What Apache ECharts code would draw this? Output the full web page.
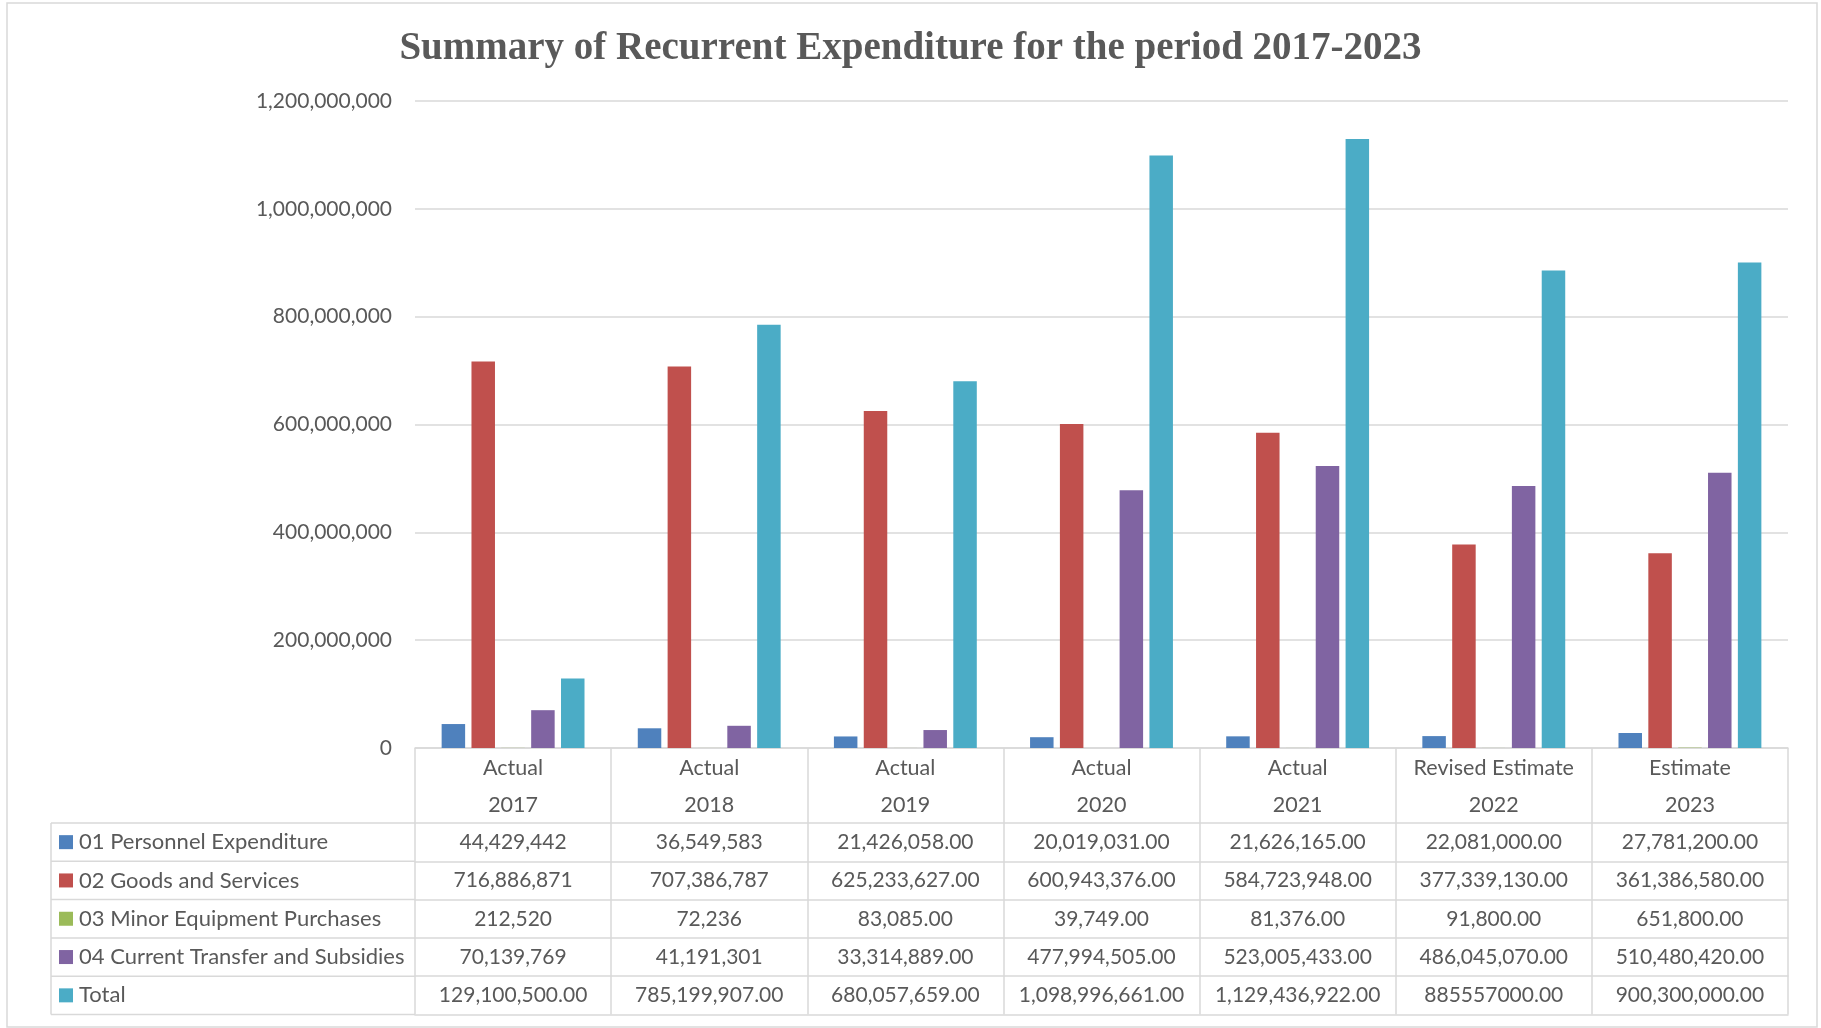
<!DOCTYPE html>
<html><head><meta charset="utf-8">
<script src="https://cdn.jsdelivr.net/npm/echarts/dist/echarts.min.js"></script>
<style>html,body{margin:0;padding:0;background:#fff}#c{width:1821px;height:1028px}</style>
</head><body><div id="c"></div>
<script>
// ---- data ----
const phases = ['Actual', 'Actual', 'Actual', 'Actual', 'Actual', 'Revised Estimate', 'Estimate'];
const years = ['2017', '2018', '2019', '2020', '2021', '2022', '2023'];
const seriesNames = ['01 Personnel Expenditure', '02 Goods and Services', '03 Minor Equipment Purchases', '04 Current Transfer and Subsidies', 'Total'];

const personnel = [44429442, 36549583, 21426058, 20019031, 21626165, 22081000, 27781200];
const goods = [716886871, 707386787, 625233627, 600943376, 584723948, 377339130, 361386580];
const minor = [212520, 72236, 83085, 39749, 81376, 91800, 651800];
const transfer = [70139769, 41191301, 33314889, 477994505, 523005433, 486045070, 510480420];
const total = [129100500, 785199907, 680057659, 1098996661, 1129436922, 885557000, 900300000];

// table cell labels as printed
const personnelLabels = ['44,429,442', '36,549,583', '21,426,058.00', '20,019,031.00', '21,626,165.00', '22,081,000.00', '27,781,200.00'];
const goodsLabels = ['716,886,871', '707,386,787', '625,233,627.00', '600,943,376.00', '584,723,948.00', '377,339,130.00', '361,386,580.00'];
const minorLabels = ['212,520', '72,236', '83,085.00', '39,749.00', '81,376.00', '91,800.00', '651,800.00'];
const transferLabels = ['70,139,769', '41,191,301', '33,314,889.00', '477,994,505.00', '523,005,433.00', '486,045,070.00', '510,480,420.00'];
const totalLabels = ['129,100,500.00', '785,199,907.00', '680,057,659.00', '1,098,996,661.00', '1,129,436,922.00', '885557000.00', '900,300,000.00'];

const yMin = 0, yMax = 1200000000, yInterval = 200000000;

// ---- layout / style ----
const seriesValues = [personnel, goods, minor, transfer, total];
const rowLabels = [personnelLabels, goodsLabels, minorLabels, transferLabels, totalLabels];
const colors = ['#4F81BD', '#C0504D', '#9BBB59', '#8064A2', '#4BACC6'];
const W = 1821, H = 1028;
const G = { left: 415, right: 1788, top: 101, zero: 748 };
const HEADER = 75, ROW = 38.3, TABLE_LEFT = 51;
const LINE = '#d9d9d9', LW = 1.5, TXT = '#595959';
const FONT = 'Lato';
const FS = 21;
const LEG_FS = 22;
const LEG_ITEM_H = 22;

const xAxes = [{
  type: 'category', gridIndex: 0, position: 'bottom', offset: 0,
  data: phases.map((p, i) => p + '\n' + years[i]),
  axisLine: { show: true, lineStyle: { color: LINE, width: LW } },
  axisTick: { show: true, interval: 0, length: HEADER, lineStyle: { color: LINE, width: LW } },
  axisLabel: { interval: 0, margin: 2, lineHeight: 37, fontSize: 21.5, color: TXT, fontFamily: FONT }
}];
rowLabels.forEach((labels, i) => {
  xAxes.push({
    type: 'category', gridIndex: 0, position: 'bottom', offset: HEADER + ROW * i,
    data: labels,
    axisLine: { show: true, lineStyle: { color: LINE, width: LW } },
    axisTick: { show: true, interval: 0, length: ROW, lineStyle: { color: LINE, width: LW } },
    axisLabel: { interval: 0, margin: 0, lineHeight: ROW, fontSize: FS, color: TXT, fontFamily: FONT }
  });
});
xAxes.push({
  type: 'category', gridIndex: 0, position: 'bottom', offset: HEADER + ROW * rowLabels.length,
  data: years,
  axisLine: { show: true, lineStyle: { color: LINE, width: LW } },
  axisTick: { show: false }, axisLabel: { show: false }
});

const tableTop = G.zero + HEADER;
const graphics = [
  { type: 'rect', shape: { x: 7, y: 3, width: 1810, height: 1024 }, style: { fill: null, stroke: LINE, lineWidth: 1.5 }, silent: true },
  { type: 'line', shape: { x1: TABLE_LEFT, y1: tableTop, x2: TABLE_LEFT, y2: tableTop + ROW * 5 }, style: { stroke: LINE, lineWidth: LW }, silent: true }
];
for (let k = 0; k <= 5; k++) {
  graphics.push({ type: 'line', shape: { x1: TABLE_LEFT, y1: tableTop + ROW * k, x2: G.left, y2: tableTop + ROW * k }, style: { stroke: LINE, lineWidth: LW }, silent: true });
}

const chart = echarts.init(document.getElementById('c'), null, { renderer: 'canvas' });
chart.setOption({
  backgroundColor: '#ffffff',
  animation: false,
  color: colors,
  title: {
    text: 'Summary of Recurrent Expenditure for the period 2017-2023',
    left: 'center', top: 29, padding: 0,
    textStyle: { fontFamily: 'Liberation Serif', fontWeight: 'bold', fontSize: 39, color: TXT }
  },
  legend: {
    orient: 'vertical', left: 59, top: tableTop + ROW / 2 - LEG_ITEM_H / 2, padding: 0,
    height: 300, width: 350,
    itemWidth: 14, itemHeight: 14, itemGap: ROW - LEG_ITEM_H, icon: 'rect', selectedMode: false,
    data: seriesNames,
    textStyle: { fontFamily: FONT, fontSize: LEG_FS, color: TXT, padding: [0, 0, 0, 1] }
  },
  grid: { left: G.left, right: W - G.right, top: G.top, bottom: H - G.zero, containLabel: false, outerBoundsMode: 'none' },
  xAxis: xAxes,
  yAxis: {
    type: 'value', min: yMin, max: yMax, interval: yInterval,
    axisLine: { show: false }, axisTick: { show: false },
    splitLine: { lineStyle: { color: LINE, width: LW } },
    axisLabel: { margin: 23, fontSize: FS, color: TXT, fontFamily: FONT, formatter: v => v.toLocaleString('en-US') }
  },
  graphic: graphics,
  series: seriesNames.map((name, i) => ({
    name, type: 'bar', xAxisIndex: 0, yAxisIndex: 0,
    data: seriesValues[i], barWidth: 23.5, barGap: '27%',
    itemStyle: { color: colors[i] }
  }))
});
</script>
</body></html>
